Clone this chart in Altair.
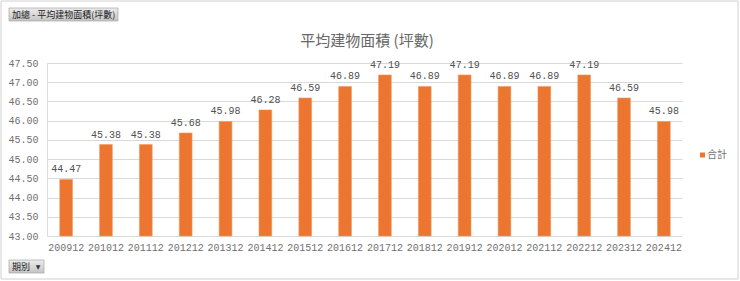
import altair as alt
import pandas as pd

periods = ["200912", "201012", "201112", "201212", "201312", "201412", "201512", "201612",
           "201712", "201812", "201912", "202012", "202112", "202212", "202312", "202412"]
values = [44.47, 45.38, 45.38, 45.68, 45.98, 46.28, 46.59, 46.89,
          47.19, 46.89, 47.19, 46.89, 46.89, 47.19, 46.59, 45.98]
y_ticks = [43.0, 43.5, 44.0, 44.5, 45.0, 45.5, 46.0, 46.5, 47.0, 47.5]

title_text = "平均建物面積 (坪數)"
field_button = "加總 - 平均建物面積(坪數)"
axis_button = "期別"
legend_label = "合計"

df = pd.DataFrame({"period": periods, "value": values})
one = pd.DataFrame({"a": [0]})

PL, PT, W, H = 47, 63, 636, 173
MONO = "Liberation Mono"
CJK = "Noto Sans CJK TC"
ORANGE = "#EC7530"
GRAY = "#707070"

x_enc = alt.X("period:N", sort=periods, title=None,
              scale=alt.Scale(paddingInner=0.68, paddingOuter=0.32),
              axis=alt.Axis(labelAngle=0, labelFont=MONO, labelFontSize=10, labelColor=GRAY,
                            ticks=False, domain=False, labelPadding=6, grid=False))
y_enc = alt.Y("value:Q", title=None,
              scale=alt.Scale(domain=[43, 47.5], zero=False, nice=False),
              axis=alt.Axis(values=y_ticks, format=".2f", labelFont=MONO, labelFontSize=10,
                            labelColor=GRAY, ticks=False, domain=False, labelPadding=9,
                            labelOverlap=False, labelFlush=False,
                            grid=True, gridColor="#d9d9d9", gridWidth=1))

base = alt.Chart(df).encode(x=x_enc, y=y_enc)

bars = base.mark_bar(color=ORANGE, stroke="#f09a60", strokeWidth=0.6).encode(y2=alt.datum(43))

labels = base.mark_text(font=MONO, fontSize=10, color="#505050",
                        baseline="middle", dy=-10).encode(
    text=alt.Text("value:Q", format=".2f"))

def px(x):
    return alt.value(x - PL)

def py(y):
    return alt.value(y - PT)

# white cover over the stray right edge line of the plot cell
cover = alt.Chart(one).mark_rule(color="white", strokeWidth=2).encode(
    x=alt.value(W + 0.5), y=alt.value(-2), y2=alt.value(H + 2))

frame = alt.Chart(one).mark_rect(fill=None, stroke="#d0d0d0", strokeWidth=1).encode(
    x=px(1), x2=px(738), y=py(1), y2=py(279))

title = alt.Chart(one).mark_text(font=CJK, fontSize=15, color="#666666", align="center",
                                 baseline="middle").encode(
    x=px(367), y=py(41), text=alt.value(title_text))

btn_fill = alt.Gradient(gradient="linear", x1=0, y1=0, x2=0, y2=1,
                        stops=[alt.GradientStop(color="#ececec", offset=0),
                               alt.GradientStop(color="#c4c4c4", offset=1)])
btn1 = alt.Chart(one).mark_rect(fill=btn_fill, stroke="#a8a8a8", strokeWidth=0.7).encode(
    x=px(9), x2=px(118), y=py(8), y2=py(21))
btn1_t = alt.Chart(one).mark_text(font=CJK, fontSize=9, color="#222222", align="left",
                                  baseline="middle").encode(
    x=px(12), y=py(14.5), text=alt.value(field_button))

btn2 = alt.Chart(one).mark_rect(fill=btn_fill, stroke="#a8a8a8", strokeWidth=0.7).encode(
    x=px(9), x2=px(44), y=py(260), y2=py(273))
btn2_t = alt.Chart(one).mark_text(font=CJK, fontSize=9, color="#222222", align="left",
                                  baseline="middle").encode(
    x=px(12), y=py(266.5), text=alt.value(axis_button))
btn2_a = alt.Chart(one).mark_text(font="DejaVu Sans", fontSize=6, color="#333333", align="center",
                                  baseline="middle").encode(
    x=px(38), y=py(266.5), text=alt.value("▼"))

leg_sq = alt.Chart(one).mark_rect(fill=ORANGE).encode(
    x=px(700), x2=px(705), y=py(152.5), y2=py(157.5))
leg_t = alt.Chart(one).mark_text(font=CJK, fontSize=10, color=GRAY, align="left",
                                 baseline="middle").encode(
    x=px(707), y=py(155), text=alt.value(legend_label))

chart = alt.layer(bars, labels, cover, frame, title, btn1, btn1_t, btn2, btn2_t, btn2_a,
                  leg_sq, leg_t).properties(
    width=W, height=H,
    autosize=alt.AutoSizeParams(type="none"),
    padding={"left": PL, "top": PT, "right": 740 - PL - W, "bottom": 281 - PT - H},
).configure_view(stroke=None).configure(background="white")

chart.save("out.html", embed_options={"renderer": "svg", "actions": False})
